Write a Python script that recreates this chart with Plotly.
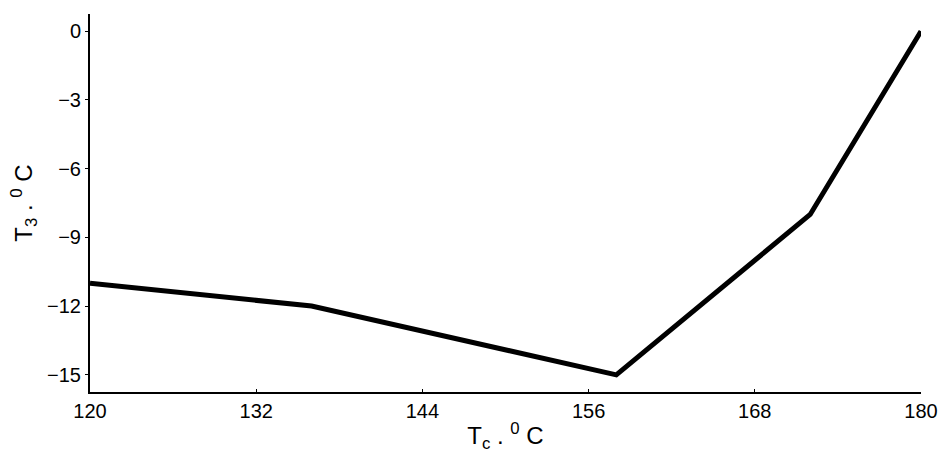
import plotly.graph_objects as go

# Condenser temperature vs. evaporator temperature
tc_values = [120, 136, 158, 172, 180]
t3_values = [-11, -12, -15, -8, 0]
x_ticks = [120, 132, 144, 156, 168, 180]
y_ticks = [0, -3, -6, -9, -12, -15]

_FONT = "Liberation Sans, Arial, sans-serif"

fig = go.Figure(
    go.Scatter(
        x=tc_values,
        y=t3_values,
        mode="lines",
        line={"color": "black", "width": 5},
        showlegend=False,
        hoverinfo="x+y",
    )
)
fig.update_layout(
    width=950,
    height=457,
    margin={"l": 90, "r": 25, "t": 14, "b": 64},
    paper_bgcolor="white",
    plot_bgcolor="white",
    font={"family": _FONT, "size": 20, "color": "black"},
    xaxis={
        "range": [120, 180],
        "tickvals": x_ticks,
        "showgrid": False,
        "zeroline": False,
        "showline": True,
        "linecolor": "black",
        "linewidth": 2,
        "ticks": "inside",
        "ticklen": 3,
        "tickwidth": 1,
        "tickcolor": "black",
        "title": {"text": "T<sub>c</sub> . <sup>0</sup> C", "standoff": 6},
    },
    yaxis={
        "range": [-15.75, 0.75],
        "tickvals": y_ticks,
        "showgrid": False,
        "zeroline": False,
        "showline": True,
        "linecolor": "black",
        "linewidth": 2,
        "ticks": "outside",
        "ticklen": 3,
        "tickwidth": 1,
        "tickcolor": "black",
        "title": {"text": "T<sub>3</sub> . <sup>0</sup> C", "standoff": 8},
    },
)
# drop the default page margin so the figure sits flush in the window
fig.write_html(
    "out.html",
    config={"displayModeBar": False},
    post_script="document.body.style.margin = '0';",
)
